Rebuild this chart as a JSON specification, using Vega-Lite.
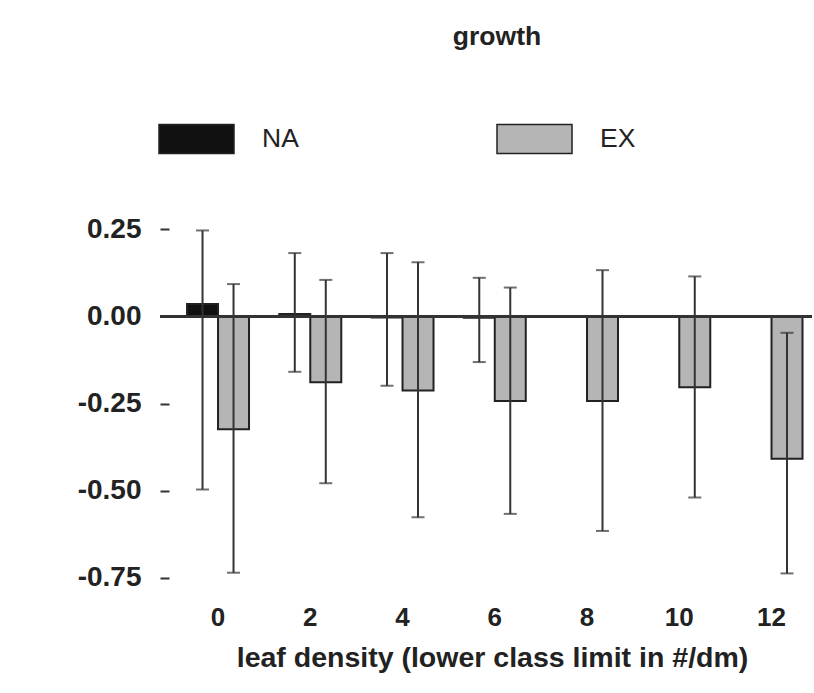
{
  "$schema": "https://vega.github.io/schema/vega-lite/v6.json",
  "width": 652,
  "height": 383,
  "autosize": {"type": "none"},
  "padding": {"left": 160, "top": 212, "right": 2, "bottom": 98},
  "background": "white",
  "config": {
    "view": {"stroke": null},
    "font": "Liberation Sans",
    "locale": {"number": {"decimal": ".", "thousands": ",", "grouping": [3], "currency": ["$", ""], "minus": "-"}},
    "axisY": {"domain": false, "tickSize": -9, "tickWidth": 2, "tickColor": "#333", "labelFontSize": 28, "labelFontWeight": "bold", "labelColor": "#222", "labelPadding": 28, "grid": false, "format": ".2f"},
    "axisX": {"domain": false, "ticks": false, "labelFontSize": 26, "labelFontWeight": "bold", "labelColor": "#222", "labelAngle": 0, "labelPadding": 9, "titleFontSize": 28.5, "titleFontWeight": "bold", "titleColor": "#222", "titlePadding": 13, "titleX": 332, "grid": false}
  },
  "title": {"text": "growth", "fontSize": 26.5, "fontWeight": "bold", "color": "#222", "frame": "group", "anchor": "middle", "offset": 50, "dx": 11},
  "data": {
    "values": [
      {"leaf": 0, "series": "NA", "value": 0.036, "lo": -0.497, "hi": 0.247},
      {"leaf": 0, "series": "EX", "value": -0.324, "lo": -0.736, "hi": 0.093},
      {"leaf": 2, "series": "NA", "value": 0.007, "lo": -0.159, "hi": 0.182},
      {"leaf": 2, "series": "EX", "value": -0.189, "lo": -0.479, "hi": 0.105},
      {"leaf": 4, "series": "NA", "value": -0.003, "lo": -0.199, "hi": 0.182},
      {"leaf": 4, "series": "EX", "value": -0.213, "lo": -0.577, "hi": 0.156},
      {"leaf": 6, "series": "NA", "value": -0.004, "lo": -0.131, "hi": 0.111},
      {"leaf": 6, "series": "EX", "value": -0.243, "lo": -0.567, "hi": 0.083},
      {"leaf": 8, "series": "EX", "value": -0.243, "lo": -0.616, "hi": 0.133},
      {"leaf": 10, "series": "EX", "value": -0.203, "lo": -0.52, "hi": 0.115},
      {"leaf": 12, "series": "EX", "value": -0.409, "lo": -0.738, "hi": -0.047}
    ]
  },
  "layer": [
    {
      "mark": {"type": "bar", "stroke": "#222", "strokeWidth": 2},
      "encoding": {
        "x": {"field": "leaf", "type": "ordinal", "title": "leaf density (lower class limit in #/dm)", "scale": {"paddingInner": 0.328, "paddingOuter": 0.198, "align": 0.74}},
        "xOffset": {"field": "series", "type": "nominal", "scale": {"domain": ["NA", "EX"], "paddingInner": 0, "paddingOuter": 0}},
        "y": {"field": "value", "type": "quantitative", "title": null, "scale": {"domain": [-0.8, 0.3], "nice": false}, "axis": {"values": [0.25, 0, -0.25, -0.5, -0.75]}},
        "fill": {"field": "series", "type": "nominal", "scale": {"domain": ["NA", "EX"], "range": ["#111111", "#b5b5b5"]},
          "legend": {"orient": "none", "legendX": -2, "legendY": -112, "direction": "horizontal", "title": null, "symbolType": "M-1,-0.387H1V0.387H-1Z", "symbolSize": 5625, "labelFontSize": 26.5, "labelColor": "#222", "labelOffset": 27, "columnPadding": 195, "symbolStrokeColor": "#222", "symbolStrokeWidth": 1.5, "symbolOpacity": 1, "padding": 0}}
      }
    },
    {
      "mark": {"type": "rule", "color": "#333", "strokeWidth": 2},
      "encoding": {"y": {"datum": 0, "type": "quantitative"}}
    },
    {
      "mark": {"type": "rule", "color": "#333", "strokeWidth": 2},
      "encoding": {
        "x": {"field": "leaf", "type": "ordinal", "title": "leaf density (lower class limit in #/dm)"},
        "xOffset": {"field": "series", "type": "nominal"},
        "y": {"field": "lo", "type": "quantitative", "title": null, "axis": {"values": [0.25, 0, -0.25, -0.5, -0.75]}},
        "y2": {"field": "hi"}
      }
    },
    {
      "mark": {"type": "tick", "color": "#333", "thickness": 2, "size": 13, "orient": "horizontal"},
      "encoding": {
        "x": {"field": "leaf", "type": "ordinal", "title": "leaf density (lower class limit in #/dm)"},
        "xOffset": {"field": "series", "type": "nominal"},
        "y": {"field": "lo", "type": "quantitative", "title": null, "axis": {"values": [0.25, 0, -0.25, -0.5, -0.75]}}
      }
    },
    {
      "mark": {"type": "tick", "color": "#333", "thickness": 2, "size": 13, "orient": "horizontal"},
      "encoding": {
        "x": {"field": "leaf", "type": "ordinal", "title": "leaf density (lower class limit in #/dm)"},
        "xOffset": {"field": "series", "type": "nominal"},
        "y": {"field": "hi", "type": "quantitative", "title": null, "axis": {"values": [0.25, 0, -0.25, -0.5, -0.75]}}
      }
    }
  ]
}
